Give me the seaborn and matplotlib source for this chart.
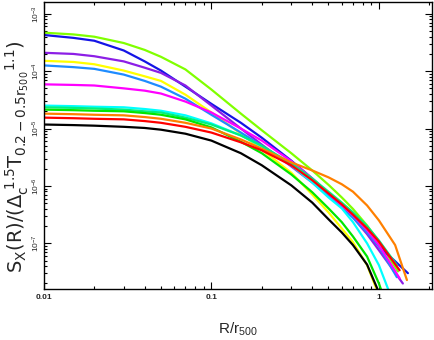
import numpy as np
import pandas as pd
import matplotlib
matplotlib.use('Agg')
import matplotlib.pyplot as plt
import matplotlib.ticker as mticker
import seaborn as sns

# R/r500 grid shared by the profiles; each profile also has its own last radius
r_grid = [0.01, 0.015, 0.02, 0.03, 0.04, 0.05, 0.07, 0.1, 0.15, 0.2,
          0.3, 0.4, 0.5, 0.6, 0.7, 0.85, 1.0]

# log10 of the scaled surface brightness
chartreuse = [-3.33, -3.36, -3.40, -3.51, -3.63, -3.75, -3.97, -4.32, -4.74, -5.03,
              -5.43, -5.73, -5.98, -6.20, -6.40, -6.69, -6.97]
blue = [-3.37, -3.42, -3.47, -3.64, -3.83, -3.99, -4.27, -4.57, -4.90, -5.16,
        -5.56, -5.87, -6.13, -6.34, -6.53, -6.81, -7.05]
violet = [-3.68, -3.70, -3.74, -3.83, -3.94, -4.03, -4.25, -4.60, -5.00, -5.28,
          -5.66, -5.94, -6.18, -6.37, -6.55, -6.84, -7.12]
yellow = [-3.82, -3.84, -3.88, -3.99, -4.09, -4.17, -4.41, -4.72, -5.09, -5.37,
          -5.77, -6.15, -6.46, -6.74, -6.98, -7.38]
dodger = [-3.90, -3.93, -3.96, -4.06, -4.17, -4.27, -4.48, -4.76, -5.07, -5.30,
          -5.64, -5.92, -6.18, -6.37, -6.55, -6.81, -7.05]
magenta = [-4.23, -4.24, -4.25, -4.30, -4.34, -4.39, -4.53, -4.72, -5.00, -5.21,
           -5.57, -5.87, -6.13, -6.34, -6.51, -6.77, -7.03]
cyan = [-4.60, -4.61, -4.62, -4.63, -4.66, -4.69, -4.77, -4.91, -5.12, -5.31,
        -5.64, -5.94, -6.20, -6.39, -6.63, -7.00, -7.38]
spring = [-4.63, -4.64, -4.65, -4.67, -4.70, -4.72, -4.81, -4.93, -5.12, -5.30,
          -5.61, -5.87, -6.10, -6.29, -6.46, -6.70, -6.95]
green = [-4.67, -4.68, -4.69, -4.70, -4.73, -4.76, -4.84, -4.98, -5.23, -5.43,
         -5.80, -6.11, -6.39, -6.63, -6.88, -7.23, -7.70]
orange = [-4.74, -4.75, -4.76, -4.77, -4.80, -4.83, -4.90, -5.00, -5.19, -5.35,
          -5.59, -5.73, -5.85, -5.97, -6.10, -6.34, -6.60, -7.03]
red = [-4.81, -4.82, -4.83, -4.84, -4.87, -4.90, -4.97, -5.07, -5.24, -5.38,
       -5.64, -5.90, -6.13, -6.32, -6.50, -6.74, -6.97]
black = [-4.93, -4.94, -4.95, -4.97, -4.99, -5.02, -5.09, -5.21, -5.43, -5.64,
         -5.99, -6.29, -6.58, -6.81, -7.03, -7.37]

# last radius and last value of each profile
ends = {
    'chartreuse': (1.30, -7.49), 'blue': (1.49, -7.52), 'violet': (1.39, -7.70),
    'yellow': (0.98, -7.84), 'dodger': (1.28, -7.59), 'magenta': (1.33, -7.61),
    'cyan': (1.15, -7.84), 'spring': (1.28, -7.38), 'green': (1.04, -7.84),
    'orange': (1.47, -7.64), 'red': (1.33, -7.47), 'black': (0.995, -7.84),
}
# orange has one extra read point at R = 1.25
extra_r = {'orange': [1.25]}

profiles = {
    'chartreuse': chartreuse, 'blue': blue, 'violet': violet, 'yellow': yellow,
    'dodger': dodger, 'magenta': magenta, 'cyan': cyan, 'spring': spring,
    'green': green, 'orange': orange, 'red': red, 'black': black,
}

colors = {
    'chartreuse': '#80ff00', 'blue': '#1414e6', 'violet': '#8c1ee6', 'yellow': '#ffff00',
    'dodger': '#1e8cff', 'magenta': '#ff00ff', 'cyan': '#00ffff', 'spring': '#00f080',
    'green': '#00e600', 'orange': '#ff8000', 'red': '#ff0000', 'black': '#000000',
}

rows = []
for name, logs in profiles.items():
    n_grid = len(logs) - len(extra_r.get(name, []))
    rs = r_grid[:n_grid] + extra_r.get(name, []) + [ends[name][0]]
    ls = logs + [ends[name][1]]
    for r, l in zip(rs, ls):
        rows.append({'curve': name, 'R': r, 'S': 10.0 ** l})
df = pd.DataFrame(rows)

sns.set_style('ticks')
plt.rcParams['font.family'] = ['Liberation Sans', 'DejaVu Sans']
plt.rcParams['mathtext.default'] = 'regular'

fig = plt.figure(figsize=(4.34, 3.4), dpi=100)
ax = fig.add_axes([0.101, 0.15, 0.894, 0.844])

sns.lineplot(data=df, x='R', y='S', hue='curve', palette=colors, sort=False,
             estimator=None, legend=False, linewidth=1.6, ax=ax)

ax.set_xscale('log')
ax.set_yscale('log')
ax.set_xlim(0.01, 2.07)
ax.set_ylim(1.6e-8, 1.6e-3)

ax.xaxis.set_major_formatter(mticker.FuncFormatter(lambda v, p: f'{v:g}'))
ax.yaxis.set_major_locator(mticker.LogLocator(base=10, numticks=10))
ax.yaxis.set_minor_locator(mticker.LogLocator(base=10, subs=range(2, 10), numticks=10))

ax.tick_params(which='both', direction='in', top=True, right=True, color='black', width=0.8)
ax.tick_params(which='major', length=5, labelsize=6)
ax.tick_params(which='minor', length=2.5)
ax.tick_params(axis='y', which='major', pad=1.5)
for lab in ax.get_xticklabels():
    lab.set_fontweight('bold')
for lab in ax.get_yticklabels():
    lab.set_rotation(90)
    lab.set_va('center')

for sp in ax.spines.values():
    sp.set_color('black')
    sp.set_linewidth(1.0)

ax.set_xlabel(r'R/r$_{500}$', fontsize=11, labelpad=14)
ax.set_ylabel(r'$S_X(R)/(\Delta_c^{\ 1.5}T_{0.2-0.5r_{500}}{}^{1.1})$', fontsize=14,
              fontfamily='DejaVu Sans')
ax.yaxis.set_label_coords(-0.033, 0.46)

fig.savefig('out.png', dpi=100)
